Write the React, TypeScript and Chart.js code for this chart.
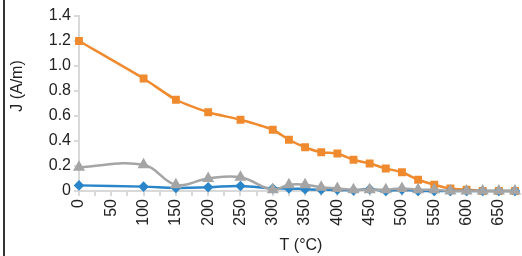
import React, { useEffect, useRef } from "react";
import { Chart, registerables } from "chart.js";

Chart.register(...registerables);

const temperatures = [0, 100, 150, 200, 250, 300, 325, 350, 375, 400, 425, 450, 475, 500, 525, 550, 575, 600, 625, 650, 675];
const orangeSeries = [1.2, 0.9, 0.73, 0.63, 0.57, 0.49, 0.41, 0.35, 0.31, 0.3, 0.25, 0.22, 0.18, 0.15, 0.09, 0.05, 0.02, 0.01, 0, 0, 0];
const graySeries = [0.19, 0.21, 0.05, 0.1, 0.11, 0.01, 0.05, 0.05, 0.03, 0.02, 0.01, 0.01, 0.01, 0.02, 0.01, 0.01, 0, 0, 0, 0, 0];
const blueSeries = [0.045, 0.035, 0.025, 0.03, 0.04, 0.02, 0.02, 0.015, 0.01, 0.01, 0.005, 0.015, 0.0, 0.01, 0.0, 0, 0, 0, 0, 0, 0];
const yTicks = [0, 0.2, 0.4, 0.6, 0.8, 1.0, 1.2, 1.4];
const xTicks = [0, 25, 50, 75, 100, 125, 150, 175, 200, 225, 250, 275, 300, 325, 350, 375, 400, 425, 450, 475, 500, 525, 550, 575, 600, 625, 650, 675];
const xLabelStep = 50;
const xTitle = "T (°C)";
const yTitle = "J (A/m)";

const FONT = "'Liberation Sans', Arial, sans-serif";
const NARROW = "'Liberation Sans Narrow', 'Arial Narrow', 'Liberation Sans', sans-serif";

const titlesPlugin = {
  id: "titles",
  afterDraw(chart: any) {
    const ctx = chart.ctx;
    ctx.save();
    ctx.fillStyle = "#222";
    ctx.font = `16px ${FONT}`;
    ctx.textAlign = "center";
    ctx.textBaseline = "middle";
    const area = chart.chartArea;
    ctx.fillText(xTitle, (area.left + area.right) / 2 + 4, 246);
    ctx.translate(18, 86);
    ctx.rotate(-Math.PI / 2);
    ctx.fillText(yTitle, 0, 0);
    ctx.restore();
  },
};

export default function App() {
  const ref = useRef<HTMLCanvasElement | null>(null);
  useEffect(() => {
    if (!ref.current) return;
    const pts = (ys: number[]) => temperatures.map((x, i) => ({ x, y: ys[i] }));
    const chart = new Chart(ref.current, {
      type: "line",
      data: {
        datasets: [
          {
            data: pts(graySeries),
            borderColor: "#a5a5a5",
            backgroundColor: "#a5a5a5",
            borderWidth: 2.5,
            pointStyle: "triangle",
            pointRadius: 4.5,
            tension: 0.4,
          },
          {
            data: pts(blueSeries),
            borderColor: "#2a86c9",
            backgroundColor: "#2a86c9",
            borderWidth: 2.5,
            pointStyle: "rectRot",
            pointRadius: 3.5,
            tension: 0.4,
          },
          {
            data: pts(orangeSeries),
            borderColor: "#f08a2e",
            backgroundColor: "#f08a2e",
            borderWidth: 2.5,
            pointStyle: "rect",
            pointRadius: 3.8,
            tension: 0.2,
          },
        ],
      },
      plugins: [titlesPlugin],
      options: {
        animation: false,
        responsive: false,
        clip: false as any,
        layout: { padding: { left: 0, right: 0, top: 16, bottom: 0 } },
        plugins: { legend: { display: false }, tooltip: { enabled: false } },
        scales: {
          x: {
            type: "linear",
            min: 0,
            max: 675,
            afterFit: (s: any) => {
              s.height = 65;
              s.paddingLeft = 0;
              s.paddingRight = 0;
            },
            afterBuildTicks: (s: any) => {
              s.ticks = xTicks.map((v) => ({ value: v }));
            },
            ticks: {
              autoSkip: false,
              minRotation: 90,
              maxRotation: 90,
              padding: 3,
              color: "#222",
              font: { family: NARROW, size: 16 },
              callback: (v: any) => (Number(v) % xLabelStep === 0 && Number(v) <= 650 ? String(v) : ""),
            },
            grid: { display: true, drawOnChartArea: false, drawTicks: true, tickLength: 5, color: "#d9d9d9", lineWidth: 2 },
            border: { color: "#d9d9d9", width: 2 },
          },
          y: {
            min: 0,
            max: 1.4,
            afterFit: (s: any) => {
              s.width = 79;
            },
            afterBuildTicks: (s: any) => {
              s.ticks = yTicks.map((v) => ({ value: v }));
            },
            ticks: {
              padding: 3,
              color: "#222",
              font: { family: FONT, size: 16 },
              callback: (v: any) => (Number(v) === 0 ? "0" : Number(v).toFixed(1)),
            },
            grid: { display: true, drawOnChartArea: false, drawTicks: true, tickLength: 5, color: "#d9d9d9", lineWidth: 2 },
            border: { color: "#d9d9d9", width: 2 },
          },
        },
      },
    });
    return () => chart.destroy();
  }, []);
  return (
    <div style={{ position: "fixed", left: 0, top: 0, width: 522, height: 256, background: "#fff" }}>
      <div style={{ position: "absolute", left: 3, top: 0, width: 2, height: 256, background: "#333" }} />
      <canvas ref={ref} width={522} height={256} style={{ position: "absolute", left: 0, top: 0 }} />
    </div>
  );
}
